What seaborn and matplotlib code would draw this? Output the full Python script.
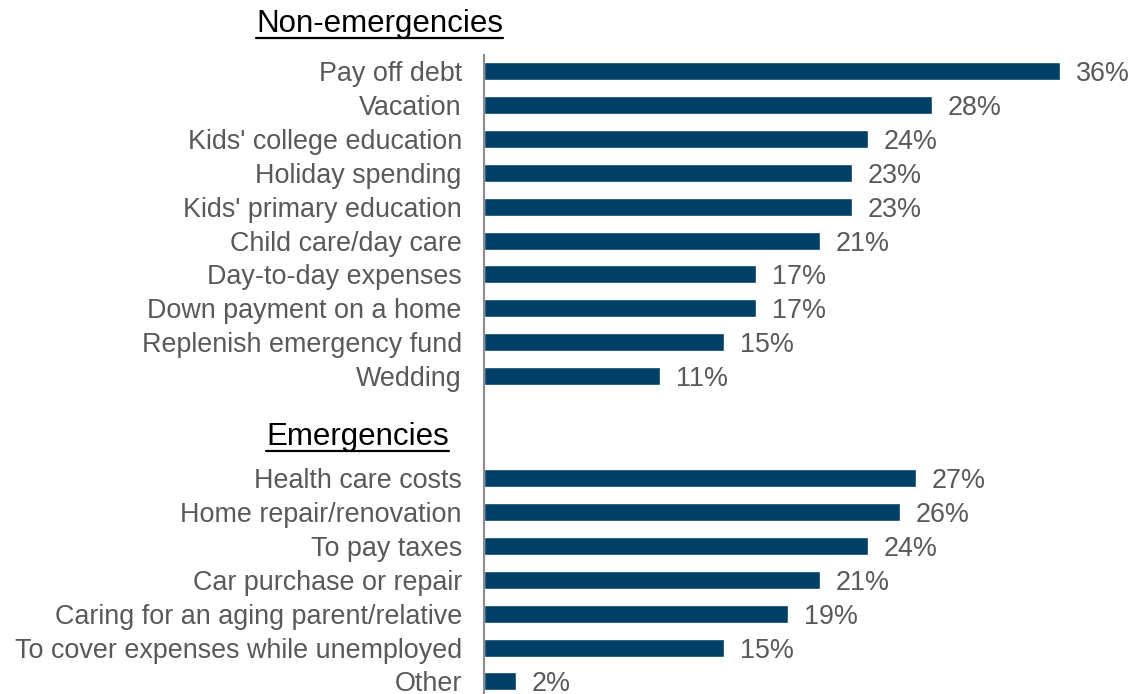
import matplotlib
matplotlib.use("Agg")
import matplotlib.pyplot as plt
import seaborn as sns
import pandas as pd
from matplotlib.lines import Line2D

non_emergency = ["Pay off debt", "Vacation", "Kids' college education", "Holiday spending",
                 "Kids' primary education", "Child care/day care", "Day-to-day expenses",
                 "Down payment on a home", "Replenish emergency fund", "Wedding"]
non_emergency_pct = [36, 28, 24, 23, 23, 21, 17, 17, 15, 11]

emergency = ["Health care costs", "Home repair/renovation", "To pay taxes",
             "Car purchase or repair", "Caring for an aging parent/relative",
             "To cover expenses while unemployed", "Other"]
emergency_pct = [27, 26, 24, 21, 19, 15, 2]

# row slots: two empty rows between the groups for the second header
rows = list(range(len(non_emergency))) + list(range(12, 12 + len(emergency)))

df = pd.DataFrame({
    "label": non_emergency + emergency,
    "pct": non_emergency_pct + emergency_pct,
    "row": rows,
})

sns.set_style("white")
plt.rcParams["font.family"] = ["Liberation Sans", "DejaVu Sans"]

bar_color = "#003F66"
text_gray = "#595959"

W, H = 1134, 694
fig = plt.figure(figsize=(W / 100, H / 100), dpi=100)
ax = fig.add_axes([484 / W, 0, (W - 484) / W, (H - 55) / H])

sns.barplot(data=df, x="pct", y="row", orient="h", native_scale=True,
            color=bar_color, width=0.53, saturation=1, ax=ax)

ax.set_xlim(0, (W - 484) / 16)
ax.set_ylim(18.37, -0.47)
ax.set_yticks(df["row"])
ax.set_yticklabels(df["label"], fontsize=19.4, color=text_gray)
ax.tick_params(axis="y", length=0, pad=16)
ax.set_xticks([])
ax.set_xlabel("")
ax.set_ylabel("")

for s in ["top", "right", "bottom"]:
    ax.spines[s].set_visible(False)
ax.spines["left"].set_color("#8C8C8C")
ax.spines["left"].set_linewidth(1.5)

for _, r in df.iterrows():
    ax.text(r["pct"] + 1.0, r["row"], f"{r['pct']}%", va="center_baseline", ha="left",
            fontsize=19.4, color=text_gray)

headers = [("Non-emergencies", 256, 32, 38), ("Emergencies", 266, 445, 451)]
htexts = []
for txt, x, base, ul in headers:
    t = fig.text(x / W, 1 - base / H, txt, ha="left", va="baseline",
                 fontsize=22.5, color="black")
    htexts.append((t, ul))

fig.canvas.draw()
for t, ul in htexts:
    bb = t.get_window_extent()
    y = 1 - ul / H
    fig.add_artist(Line2D([bb.x0 / W, bb.x1 / W], [y, y], color="black",
                          linewidth=1.6, transform=fig.transFigure))

fig.savefig("out.png", dpi=100)
